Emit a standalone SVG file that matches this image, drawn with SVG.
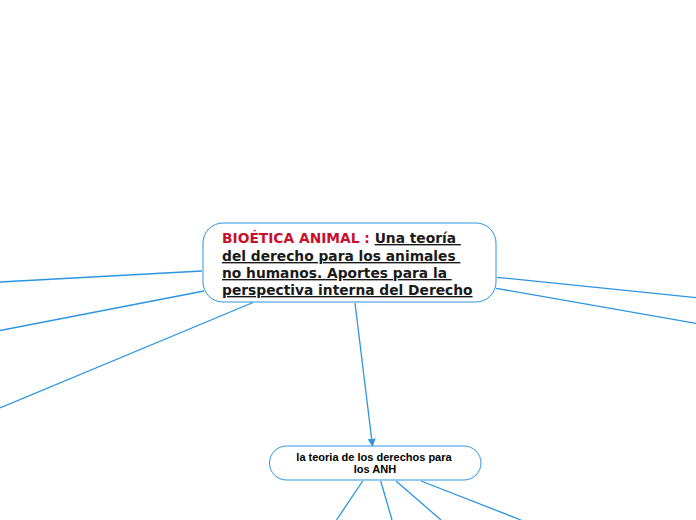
<svg xmlns="http://www.w3.org/2000/svg" width="696" height="520" viewBox="0 0 696 520">
<style>
.conn{stroke:#2a95e0;stroke-width:1.3;fill:none}
.node{fill:#ffffff;stroke:#2a95e0;stroke-width:1}
.main{font-family:"DejaVu Sans",sans-serif;font-weight:bold;font-size:13.8px;fill:#1a1a1a;white-space:pre}
.red{fill:#c8102e}
.u{text-decoration:underline}
.sub{font-family:"Liberation Sans",Arial,sans-serif;font-weight:bold;font-size:11px;fill:#000}
</style>
<defs>
<marker id="arr" viewBox="0 0 10 10" refX="9" refY="5" markerWidth="8" markerHeight="8" markerUnits="userSpaceOnUse" orient="auto">
<path d="M0,0 L10,5 L0,10 z" fill="#2a95e0"/>
</marker>
</defs>
<g id="connectors">
<line class="conn" x1="202" y1="271" x2="0" y2="282"/>
<line class="conn" x1="204" y1="291" x2="0" y2="330.5"/>
<line class="conn" x1="253" y1="302.5" x2="0" y2="408"/>
<line class="conn" x1="497" y1="277.3" x2="696" y2="297.7"/>
<line class="conn" x1="496" y1="288.3" x2="696" y2="323.3"/>
<line class="conn" x1="355" y1="303" x2="372.5" y2="446" marker-end="url(#arr)"/>
<line class="conn" x1="362.7" y1="481" x2="336.5" y2="520"/>
<line class="conn" x1="380.7" y1="481" x2="392" y2="520"/>
<line class="conn" x1="396" y1="481" x2="441" y2="520"/>
<line class="conn" x1="421" y1="481" x2="521" y2="520"/>
</g>
<g id="node-main">
<rect class="node" x="203" y="223" width="293" height="79" rx="20" ry="20"/>
<text class="main" x="222" y="243"><tspan class="red">BIOÉTICA ANIMAL : </tspan><tspan class="u">Una teoría </tspan></text>
<text class="main u" x="222" y="261">del derecho para los animales </text>
<text class="main u" x="222" y="278">no humanos. Aportes para la </text>
<text class="main u" x="222" y="295">perspectiva interna del Derecho</text>
</g>
<g id="node-teoria">
<rect class="node" x="269.5" y="446" width="211.5" height="34" rx="17" ry="17"/>
<text class="sub" x="374" y="461" text-anchor="middle">la teoria de los derechos para</text>
<text class="sub" x="375" y="473" text-anchor="middle">los ANH</text>
</g>
</svg>
